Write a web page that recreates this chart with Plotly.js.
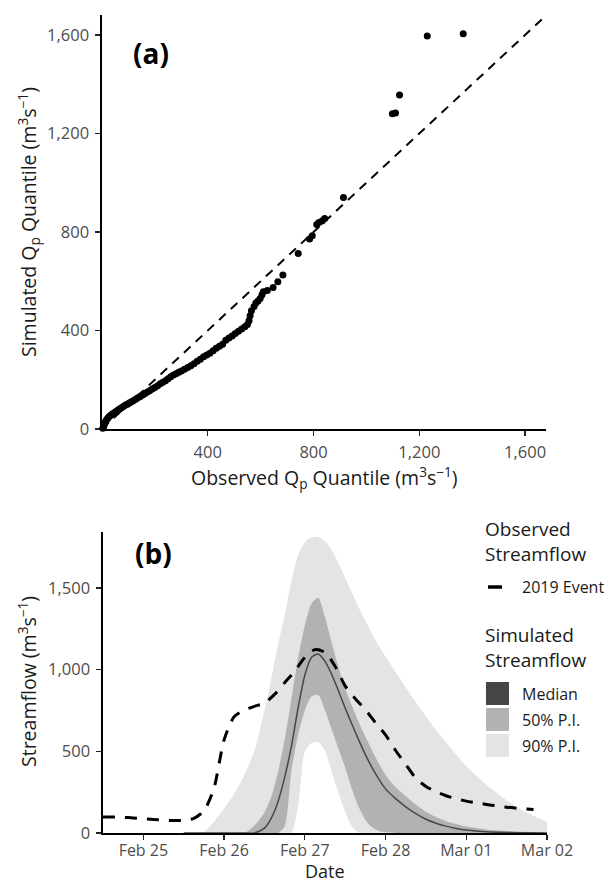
<!DOCTYPE html>
<html><head><meta charset="utf-8">
<script src="https://cdn.plot.ly/plotly-3.0.1.min.js"></script>
<style>html,body{margin:0;padding:0;background:#fff}</style>
</head><body><div id="chart" style="width:607px;height:883px"></div>
<script>
// ---- Panel (a): Q-Q plot of peak flow quantiles ----
const obsQuantile = [3,6,9,12,15,19,23,28,33,38,44,50,56,62,68,75,82,89,96,103,110,118,126,134,143,152,161,170,180,190,200,210,220,230,240,250,260,270,280,290,300,312,324,336,348,360,372,384,396,408,420,432,444,456,468,480,492,504,516,528,540,550,556,560,565,575,582,590,598,605,610,625,647,665,684,742,785,795,812,820,832,842,913,1098,1110,1125,1230,1366];
const simQuantile = [3,10,18,26,33,40,46,52,56,60,64,69,73,78,82,87,92,97,101,106,110,115,120,126,131,137,143,149,155,162,168,176,184,190,196,204,212,219,224,230,236,243,250,257,265,275,283,293,300,308,318,328,336,344,360,370,378,388,397,406,415,424,440,460,480,497,512,520,530,545,557,562,575,598,625,713,771,785,830,838,845,855,940,1280,1283,1356,1596,1605];
const oneToOne = [0, 1800];
const qTickVals = [0, 400, 800, 1200, 1600];
const qTickText = ['0', '400', '800', '1,200', '1,600'];

// ---- Panel (b): observed and simulated streamflow ----
const obsTime = ['2019-02-24 12:00','2019-02-24 15:00','2019-02-24 18:00','2019-02-24 21:00',
  '2019-02-25 00:00','2019-02-25 03:00','2019-02-25 06:00','2019-02-25 09:00','2019-02-25 12:00','2019-02-25 15:00','2019-02-25 18:00','2019-02-25 21:00',
  '2019-02-26 00:00','2019-02-26 03:00','2019-02-26 06:00','2019-02-26 09:00','2019-02-26 12:00','2019-02-26 15:00','2019-02-26 18:00','2019-02-26 21:00',
  '2019-02-27 00:00','2019-02-27 03:00','2019-02-27 06:00','2019-02-27 09:00','2019-02-27 12:00','2019-02-27 15:00','2019-02-27 18:00','2019-02-27 21:00',
  '2019-02-28 00:00','2019-02-28 03:00','2019-02-28 06:00','2019-02-28 09:00','2019-02-28 12:00','2019-02-28 15:00','2019-02-28 18:00','2019-02-28 21:00',
  '2019-03-01 00:00','2019-03-01 03:00','2019-03-01 06:00','2019-03-01 09:00','2019-03-01 12:00','2019-03-01 15:00','2019-03-01 18:00','2019-03-01 20:00'];
const obsFlow = [98,98,96,92,
  87,82,79,76,77,90,135,275,
  570,712,752,775,795,848,920,990,
  1075,1122,1105,1020,900,822,755,675,
  600,505,420,335,285,252,228,210,
  195,185,175,166,158,152,147,144];

const simTime = ['2019-02-25 12:00','2019-02-25 18:00',
  '2019-02-26 00:00','2019-02-26 03:00','2019-02-26 06:00','2019-02-26 09:00','2019-02-26 12:00','2019-02-26 14:00','2019-02-26 16:00','2019-02-26 18:00','2019-02-26 20:00','2019-02-26 22:00',
  '2019-02-27 00:00','2019-02-27 02:00','2019-02-27 04:00','2019-02-27 06:00','2019-02-27 08:00','2019-02-27 10:00','2019-02-27 12:00','2019-02-27 14:00','2019-02-27 16:00','2019-02-27 18:00','2019-02-27 20:00','2019-02-27 22:00',
  '2019-02-28 00:00','2019-02-28 03:00','2019-02-28 06:00','2019-02-28 09:00','2019-02-28 12:00','2019-02-28 15:00','2019-02-28 18:00','2019-02-28 21:00',
  '2019-03-01 00:00','2019-03-01 06:00','2019-03-01 12:00','2019-03-01 18:00','2019-03-02 00:00'];
const simP95 = [0,8,150,240,355,500,750,940,1150,1330,1540,1700,1780,1810,1812,1785,1730,1650,1560,1470,1380,1300,1220,1145,1080,985,890,800,715,630,555,480,410,295,200,125,67];
const simP75 = [0,0,0,0,0,45,125,220,370,570,820,1070,1270,1405,1440,1320,1165,1015,885,780,680,590,505,425,355,280,225,175,130,98,72,55,40,22,12,6,3];
const simP50 = [0,0,0,0,0,0,30,90,190,340,530,765,965,1075,1095,1050,970,870,765,665,570,480,400,330,270,210,160,118,84,60,42,28,18,7,3,1,0];
const simP25 = [0,0,0,0,0,0,0,0,0,40,380,600,750,835,845,750,635,515,400,270,160,80,35,12,4,0,0,0,0,0,0,0,0,0,0,0,0];
const simP05 = [0,0,0,0,0,0,0,0,0,0,0,160,500,550,555,505,375,245,130,40,3,0,0,0,0,0,0,0,0,0,0,0,0,0,0,0,0];
const flowTickVals = [0, 500, 1000, 1500];
const flowTickText = ['0', '500', '1,000', '1,500'];
const dateTickVals = ['2019-02-25','2019-02-26','2019-02-27','2019-02-28','2019-03-01','2019-03-02'];
const dateTickText = ['Feb 25','Feb 26','Feb 27','Feb 28','Mar 01','Mar 02'];
const legendItems = ['Median', '50% P.I.', '90% P.I.'];
const legendColors = ['#454545', '#b2b2b2', '#e4e4e4'];

const W = 607, H = 883;
const px = v => v / W;
const py = v => 1 - v / H;
const FONT = 'Open Sans, Noto Sans, sans-serif';

const traces = [
  {x: oneToOne, y: oneToOne, xaxis: 'x', yaxis: 'y', mode: 'lines', line: {color: '#000', width: 2, dash: '9px,7px'}, hoverinfo: 'skip'},
  {x: obsQuantile, y: simQuantile, xaxis: 'x', yaxis: 'y', mode: 'markers', marker: {color: '#000', size: 7}, cliponaxis: false},
  {x: simTime, y: simP05, xaxis: 'x2', yaxis: 'y2', mode: 'lines', line: {width: 0, shape: 'spline', smoothing: 0.7}, hoverinfo: 'skip'},
  {x: simTime, y: simP95, xaxis: 'x2', yaxis: 'y2', mode: 'lines', fill: 'tonexty', fillcolor: legendColors[2], line: {width: 0, shape: 'spline', smoothing: 0.7}},
  {x: simTime, y: simP25, xaxis: 'x2', yaxis: 'y2', mode: 'lines', line: {width: 0, shape: 'spline', smoothing: 0.7}, hoverinfo: 'skip'},
  {x: simTime, y: simP75, xaxis: 'x2', yaxis: 'y2', mode: 'lines', fill: 'tonexty', fillcolor: legendColors[1], line: {width: 0, shape: 'spline', smoothing: 0.7}},
  {x: simTime, y: simP50, xaxis: 'x2', yaxis: 'y2', mode: 'lines', line: {color: '#474747', width: 1.5, shape: 'spline', smoothing: 0.7}},
  {x: obsTime, y: obsFlow, xaxis: 'x2', yaxis: 'y2', mode: 'lines', line: {color: '#000', width: 3, dash: '12px,10px', shape: 'spline', smoothing: 0.7}}
];

const axisCommon = {
  showline: true, linecolor: '#000', linewidth: 1.6, mirror: false,
  ticks: 'outside', ticklen: 5, tickwidth: 1.3, tickcolor: '#222',
  tickfont: {family: FONT, size: 16.5, color: '#4d4d4d'},
  showgrid: false, zeroline: false, fixedrange: true, ticklabelstandoff: 3
};

const layout = {
  width: W, height: H,
  margin: {l: 0, r: 0, t: 0, b: 0},
  paper_bgcolor: '#fff', plot_bgcolor: '#fff',
  showlegend: false,
  font: {family: FONT, color: '#1a1a1a'},
  xaxis: Object.assign({}, axisCommon, {domain: [px(102), px(546)], range: [0, 1679], anchor: 'y',
    tickmode: 'array', tickvals: qTickVals.slice(1), ticktext: qTickText.slice(1)}),
  yaxis: Object.assign({}, axisCommon, {domain: [py(429), py(15)], range: [0, 1681], anchor: 'x',
    tickmode: 'array', tickvals: qTickVals, ticktext: qTickText}),
  xaxis2: Object.assign({}, axisCommon, {domain: [px(103), px(547)], type: 'date',
    range: ['2019-02-24 12:00', '2019-03-02 00:00'], anchor: 'y2', ticklabelstandoff: -3,
    tickfont: {family: FONT, size: 16, color: '#4d4d4d'},
    tickmode: 'array', tickvals: dateTickVals, ticktext: dateTickText}),
  yaxis2: Object.assign({}, axisCommon, {domain: [py(833), py(532)], range: [0, 1842], anchor: 'x2',
    tickmode: 'array', tickvals: flowTickVals, ticktext: flowTickText}),
  annotations: [],
  shapes: []
};

function ann(text, x, y, opts) {
  layout.annotations.push(Object.assign({
    text: text, x: px(x), y: py(y), xref: 'paper', yref: 'paper',
    showarrow: false, xanchor: 'center', yanchor: 'middle', borderpad: 0,
    font: {family: FONT, size: 19.5, color: '#1a1a1a'}
  }, opts || {}));
}

// panel labels
ann('<b>(a)</b>', 151, 53, {font: {family: FONT, size: 28, color: '#000'}});
ann('<b>(b)</b>', 153, 553, {font: {family: FONT, size: 28, color: '#000'}});
// axis titles
ann('Observed Q<sub>p</sub> Quantile (m<sup>3</sup>s<sup>−1</sup>)', 325, 477);
ann('Simulated Q<sub>p</sub> Quantile (m<sup>3</sup>s<sup>−1</sup>)', 28, 222, {textangle: -90});
ann('Date', 325, 884, {yanchor: 'bottom', font: {family: FONT, size: 18, color: '#1a1a1a'}});
ann('Streamflow (m<sup>3</sup>s<sup>−1</sup>)', 27, 682, {textangle: -90});

// legend: observed
ann('Observed<br>Streamflow', 484, 541, {xanchor: 'left', align: 'left', font: {family: FONT, size: 19, color: '#1a1a1a'}});
layout.shapes.push({type: 'line', xref: 'paper', yref: 'paper', x0: px(488), x1: px(502), y0: py(587), y1: py(587), line: {color: '#000', width: 3.5}});
ann('2019 Event', 521, 587, {xanchor: 'left', font: {family: FONT, size: 16, color: '#1a1a1a'}});
// legend: simulated
ann('Simulated<br>Streamflow', 484, 647, {xanchor: 'left', align: 'left', font: {family: FONT, size: 19, color: '#1a1a1a'}});
const boxTop = [682, 708, 734];
legendItems.forEach((lab, i) => {
  layout.shapes.push({type: 'rect', xref: 'paper', yref: 'paper', x0: px(486), x1: px(509), y0: py(boxTop[i] + 23), y1: py(boxTop[i]), fillcolor: legendColors[i], line: {width: 0}});
  ann(lab, 521, boxTop[i] + 11.5, {xanchor: 'left', font: {family: FONT, size: 16, color: '#1a1a1a'}});
});

Plotly.newPlot('chart', traces, layout, {displayModeBar: false, staticPlot: true});
</script></body></html>
